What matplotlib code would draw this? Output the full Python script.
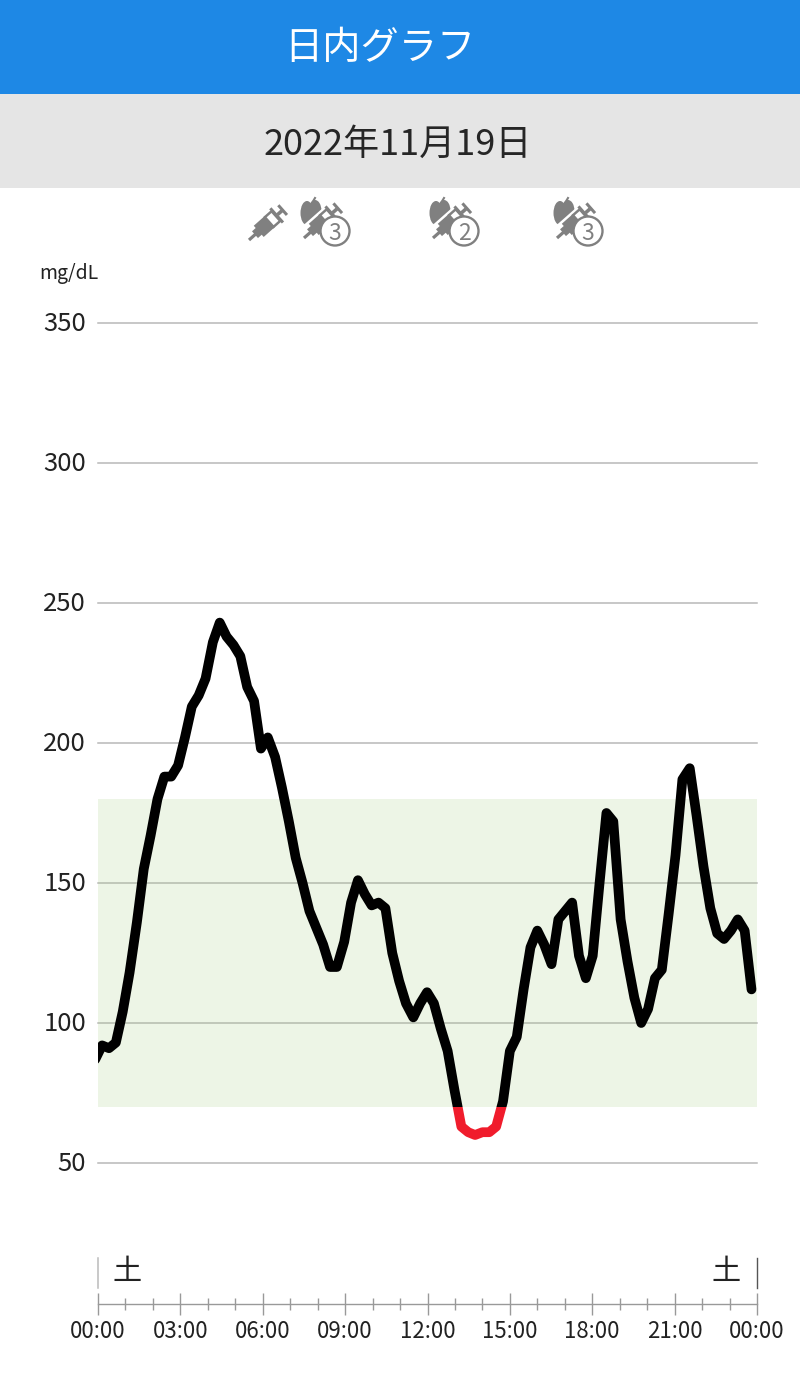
import matplotlib
matplotlib.use("Agg")
import matplotlib.pyplot as plt
from matplotlib.patches import Rectangle, Circle, Ellipse
from matplotlib.transforms import Affine2D, ScaledTranslation
import numpy as np

plt.rcParams["font.family"] = ["Noto Sans CJK JP", "DejaVu Sans"]

W, H = 800, 1378

# minutes after midnight of each sensor reading
minutes = [-6, 9, 24, 39, 54, 69, 85, 100, 115, 130, 145, 160, 175, 190, 205, 220,
           235, 251, 266, 281, 296, 311, 326, 341, 356, 371, 387, 402, 417, 432, 447, 462,
           477, 492, 507, 522, 538, 553, 568, 583, 598, 613, 628, 643, 658, 673, 689, 704,
           719, 734, 749, 764, 779, 794, 809, 824, 840, 855, 870, 885, 900, 915, 930, 945,
           960, 975, 991, 1006, 1021, 1036, 1051, 1066, 1081, 1096, 1111, 1126, 1142, 1157,
           1172, 1187, 1202, 1217, 1232, 1247, 1262, 1277, 1293, 1308, 1323, 1338, 1353,
           1368, 1383, 1398, 1413, 1428]
glucose = [87, 92, 91, 93, 104, 118, 136, 155, 167, 180, 188, 188, 192, 202, 213, 217,
           223, 236, 243, 238, 235, 231, 220, 215, 198, 202, 195, 184, 172, 159, 150, 140,
           134, 128, 120, 120, 129, 143, 151, 146, 142, 143, 141, 125, 115, 107, 102, 107,
           111, 107, 98, 90, 76, 63, 61, 60, 61, 61, 63, 72, 90, 95, 112, 127,
           133, 128, 121, 137, 140, 143, 124, 116, 124, 150, 175, 172, 137, 122,
           109, 100, 105, 116, 119, 139, 160, 187, 191, 174, 156, 141, 132, 130, 133,
           137, 133, 112]

y_ticks = [50, 100, 150, 200, 250, 300, 350]
target_low, target_high = 70, 180
hour_labels = ["00:00", "03:00", "06:00", "09:00", "12:00", "15:00", "18:00", "21:00", "00:00"]
title = "日内グラフ"
date_label = "2022年11月19日"
unit_label = "mg/dL"
day_label = "土"
meal_counts = [3, 2, 3]


def px_axes(fig, left, top, right, bottom):
    # axes placed by pixel position, top-left origin
    return fig.add_axes([left / W, 1 - bottom / H, (right - left) / W, (bottom - top) / H])


def draw_syringe(ax, x0, y0, angle, scale=1.0):
    """Syringe drawn along +u from the needle tip at (x0, y0)."""
    tr = Affine2D().scale(scale).rotate(angle).translate(x0, y0) + ax.transData
    col = "#808080"
    ax.add_patch(Rectangle((0, -1.6), 9, 3.2, fc=col, ec="none", transform=tr, zorder=5))
    ax.add_patch(Rectangle((8, -4.5), 6, 9, fc=col, ec="none", transform=tr, zorder=5))
    ax.add_patch(Rectangle((13, -7.5), 15, 15, fc=col, ec="none", transform=tr, zorder=5))
    ax.add_patch(Rectangle((27, -6.5), 9, 13, fc="white", ec=col, lw=1.8, transform=tr, zorder=5))
    ax.add_patch(Rectangle((35.5, -9.5), 3, 19, fc=col, ec="none", transform=tr, zorder=5))
    ax.add_patch(Rectangle((38, -1.8), 6, 3.6, fc=col, ec="none", transform=tr, zorder=5))
    ax.add_patch(Rectangle((43.5, -6.5), 3, 13, fc=col, ec="none", transform=tr, zorder=5))


def draw_meal_icon(ax, dx, count):
    col = "#808080"
    # apple with stem
    ax.add_patch(Ellipse((307 + dx, 213), 13, 24, fc=col, ec="none", zorder=3))
    ax.add_patch(Ellipse((315 + dx, 211), 13, 22, fc=col, ec="none", zorder=3))
    ax.plot([312 + dx, 315 + dx], [203, 198], color=col, lw=1.5, zorder=3)
    # white gap between apple and syringe
    tr = Affine2D().rotate(np.arctan2(-30, 34)).translate(304 + dx, 238) + ax.transData
    ax.add_patch(Rectangle((4, -10), 50, 20, fc="white", ec="none", transform=tr, zorder=4))
    draw_syringe(ax, 304 + dx, 238, np.arctan2(-30, 34))
    ax.add_patch(Circle((335 + dx, 231), 14.5, fc="white", ec=col, lw=1.7, zorder=6))
    ax.text(335 + dx, 231, str(count), color=col, fontsize=16.5, ha="center", va="center_baseline", zorder=7)


fig = plt.figure(figsize=(W / 100, H / 100), dpi=100)

# page overlay in pixel coordinates
page = fig.add_axes([0, 0, 1, 1])
page.set_xlim(0, W)
page.set_ylim(H, 0)
page.axis("off")
page.add_patch(Rectangle((0, 0), W, 94, fc="#1e88e5", ec="none"))
page.add_patch(Rectangle((0, 94), W, 94, fc="#e5e5e5", ec="none"))
page.text(379.5, 49, title, color="white", fontsize=27.5, ha="center", va="center")
page.text(398, 145, date_label, color="#262626", fontsize=26, ha="center", va="center")
page.text(69, 274, unit_label, color="#222222", fontsize=14, ha="center", va="center")

draw_syringe(page, 249, 240, np.arctan2(-32, 36))
for dx, n in zip([0, 129, 253], meal_counts):
    draw_meal_icon(page, dx, n)

# day markers above the time axis
page.plot([98, 98], [1258, 1288], color="#bbbbbb", lw=1.1)
page.plot([757, 757], [1258, 1288], color="#555555", lw=1.0)
page.text(127.5, 1272, day_label, color="#222222", fontsize=21, ha="center", va="center")
page.text(726.5, 1272, day_label, color="#222222", fontsize=21, ha="center", va="center")

# glucose chart
ax = px_axes(fig, 98, 323, 757, 1163)
ax.patch.set_alpha(0)
ax.set_xlim(0, 1440)
ax.set_ylim(50, 350)
for s in ax.spines.values():
    s.set_visible(False)
ax.set_xticks([])
ax.set_yticks(y_ticks)
ax.tick_params(axis="y", length=0, pad=8.5, labelsize=18.5, labelcolor="#222222")
ax.grid(axis="y", color="#b8b8b8", lw=1.1)
for gl in ax.get_ygridlines():
    gl.set_clip_on(False)
shift_up = ScaledTranslation(0, 2 / 100, fig.dpi_scale_trans)
for lab in ax.get_yticklabels():
    lab.set_transform(lab.get_transform() + shift_up)
ax.axhspan(target_low, target_high, color="#a5cd82", alpha=0.2, lw=0, zorder=2)

line_kw = dict(lw=7, solid_joinstyle="round", solid_capstyle="round", zorder=3)
normal, = ax.plot(minutes, glucose, color="black", **line_kw)
normal.set_clip_path(Rectangle((0, target_low), 1440, 300, transform=ax.transData))
low, = ax.plot(minutes, glucose, color="#f01c2c", **line_kw)
low.set_clip_path(Rectangle((0, 0), 1440, target_low, transform=ax.transData))

# time axis
tax = px_axes(fig, 98, 1303, 757, 1304)
tax.patch.set_alpha(0)
tax.set_xlim(0, 24)
tax.set_yticks([])
for side in ["left", "right", "top"]:
    tax.spines[side].set_visible(False)
tax.spines["bottom"].set_color("#999999")
tax.spines["bottom"].set_linewidth(1.0)
tax.set_xticks(range(0, 25, 3))
tax.set_xticklabels(hour_labels)
tax.set_xticks(range(0, 25), minor=True)
tax.tick_params(axis="x", which="major", direction="inout", length=16, width=1, color="#999999",
                labelsize=16, labelcolor="#222222", pad=3.5)
tax.tick_params(axis="x", which="minor", direction="inout", length=8, width=1, color="#999999")

fig.savefig("out.png", dpi=100)
